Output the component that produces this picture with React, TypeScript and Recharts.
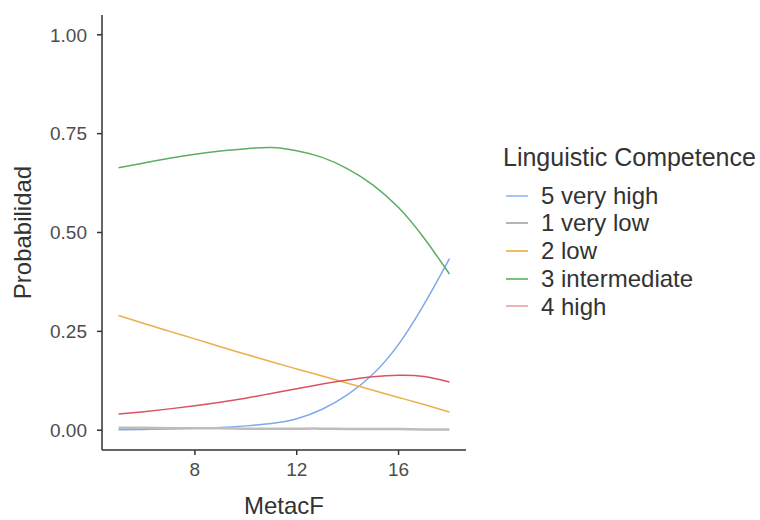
import React from 'react';
import { LineChart, Line, XAxis, YAxis, Label } from 'recharts';

// Predicted probabilities by MetacF score
const metacF = [5, 6, 7, 8, 9, 10, 11, 12, 13, 14, 15, 16, 17, 18];
const veryHigh = [0.001, 0.002, 0.003, 0.005, 0.007, 0.011, 0.017, 0.029, 0.053, 0.09, 0.142, 0.217, 0.318, 0.434];
const veryLow = [0.006, 0.006, 0.005, 0.005, 0.005, 0.004, 0.004, 0.004, 0.004, 0.003, 0.003, 0.003, 0.002, 0.002];
const low = [0.29, 0.27, 0.25, 0.231, 0.211, 0.192, 0.173, 0.155, 0.137, 0.119, 0.101, 0.083, 0.065, 0.046];
const intermediate = [0.664, 0.676, 0.688, 0.698, 0.706, 0.712, 0.715, 0.707, 0.69, 0.661, 0.62, 0.563, 0.486, 0.395];
const high = [0.041, 0.047, 0.054, 0.062, 0.071, 0.081, 0.093, 0.105, 0.117, 0.127, 0.135, 0.139, 0.136, 0.122];

const xTicks = [8, 12, 16];
const yTicks = [0, 0.25, 0.5, 0.75, 1];

const series = [
  { key: 'veryHigh', name: '5 very high', color: '#7fa8ec', legend: '#a9c4f2', width: 1.5 },
  { key: 'veryLow', name: '1 very low', color: '#bdbdbd', legend: '#b5b5b5', width: 2.5 },
  { key: 'low', name: '2 low', color: '#eab04c', legend: '#efbd62', width: 1.5 },
  { key: 'intermediate', name: '3 intermediate', color: '#5bae63', legend: '#7cbf81', width: 1.5 },
  { key: 'high', name: '4 high', color: '#d9545f', legend: '#eab3b6', width: 1.5 },
];

const data = metacF.map((x, i) => ({
  x,
  veryHigh: veryHigh[i],
  veryLow: veryLow[i],
  low: low[i],
  intermediate: intermediate[i],
  high: high[i],
}));

const FONT = '"Liberation Sans", Arial, sans-serif';
const AXIS = '#333333';
const TICK_TEXT = '#4d4d4d';

const LegendBox = () => (
  <div
    style={{
      position: 'absolute',
      left: 503,
      top: 144,
      fontFamily: FONT,
      color: '#333',
      lineHeight: '27.7px',
      whiteSpace: 'nowrap',
    }}
  >
    <div style={{ fontSize: 25, marginBottom: 10 }}>Linguistic Competence</div>
    {series.map((s) => (
      <div key={s.key} style={{ display: 'flex', alignItems: 'center', fontSize: 24 }}>
        <span
          style={{
            display: 'inline-block',
            width: 22,
            height: 2,
            background: s.legend,
            marginLeft: 3,
            marginRight: 13,
          }}
        />
        <span>{s.name}</span>
      </div>
    ))}
  </div>
);

export default function App() {
  return (
    <div style={{ position: 'absolute', left: 0, top: 0, width: 760, height: 520, background: '#fff' }}>
      <LineChart
        width={760}
        height={520}
        data={data}
        margin={{ top: 15, right: 294, bottom: 0, left: 0 }}
      >
        <XAxis
          dataKey="x"
          type="number"
          domain={[4.35, 18.65]}
          ticks={xTicks}
          allowDataOverflow
          stroke={AXIS}
          strokeWidth={1.5}
          tickSize={5}
          tickMargin={8}
          tick={{ fill: TICK_TEXT, fontSize: 19, fontFamily: FONT }}
          height={70}
        >
          <Label
            value="MetacF"
            position="insideBottom"
            offset={6}
            style={{ fill: '#333', fontSize: 24, fontFamily: FONT }}
          />
        </XAxis>
        <YAxis
          type="number"
          domain={[-0.05, 1.05]}
          ticks={yTicks}
          allowDataOverflow
          stroke={AXIS}
          strokeWidth={1.5}
          tickSize={5}
          tickMargin={10}
          tickFormatter={(v: number) => v.toFixed(2)}
          tick={{ fill: TICK_TEXT, fontSize: 19, fontFamily: FONT }}
          width={102}
        >
          <Label
            value="Probabilidad"
            angle={-90}
            position="insideLeft"
            offset={22}
            style={{ fill: '#333', fontSize: 24, fontFamily: FONT, textAnchor: 'middle' }}
          />
        </YAxis>
        {series.map((s) => (
          <Line
            key={s.key}
            dataKey={s.key}
            name={s.name}
            type="natural"
            stroke={s.color}
            strokeWidth={s.width}
            dot={false}
            isAnimationActive={false}
          />
        ))}
      </LineChart>
      <LegendBox />
    </div>
  );
}
